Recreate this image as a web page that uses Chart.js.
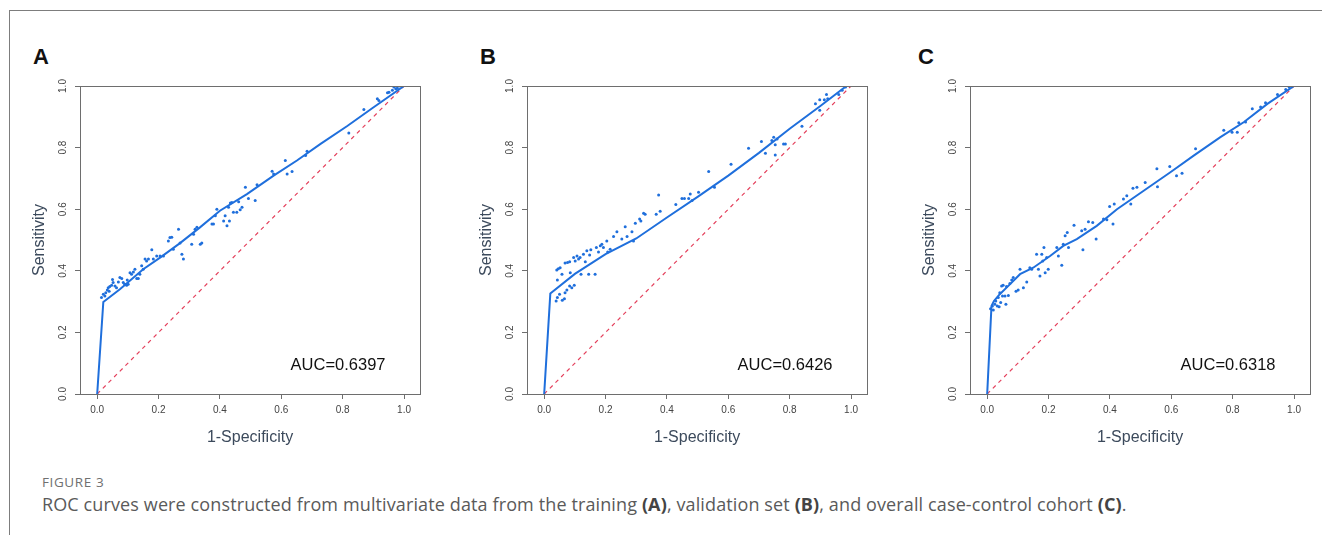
<!DOCTYPE html>
<html>
<head>
<meta charset="utf-8">
<script src="https://cdn.jsdelivr.net/npm/chart.js@4"></script>
<style>
  html, body { margin: 0; padding: 0; background: #fff; width: 1322px; height: 535px; overflow: hidden; }
  body { position: relative; font-family: Arial, "Liberation Sans", sans-serif; }
  .frame { position: absolute; left: 9px; top: 10px; right: 0; bottom: 0;
           border-top: 1px solid #7d7d7d; border-left: 1px solid #7d7d7d; }
  .panel { position: absolute; top: 70px; }
  .letter { position: absolute; top: 46px; font: bold 22px Arial, "Liberation Sans", sans-serif; line-height: 22px; color: #111; }
  .fig { position: absolute; left: 42px; top: 473px; font: 13.5px "Open Sans", sans-serif; line-height: 18px;
         color: #707070; letter-spacing: 0.6px; }
  .caption { position: absolute; left: 42px; top: 494px; font: 18px "Open Sans", sans-serif; line-height: 20px;
             color: #5a5a5a; white-space: nowrap; letter-spacing: 0.12px; }
  .caption b { color: #444; font-weight: 700; }
</style>
</head>
<body>
<div class="frame"></div>

<div class="letter" style="left:33px">A</div>
<div class="letter" style="left:480px">B</div>
<div class="letter" style="left:918px">C</div>

<canvas id="rocA" class="panel" style="left:20px" width="412" height="390"></canvas>
<canvas id="rocB" class="panel" style="left:467px" width="412" height="390"></canvas>
<canvas id="rocC" class="panel" style="left:910px" width="412" height="390"></canvas>

<div class="fig">FIGURE 3</div>
<div class="caption">ROC curves were constructed from multivariate data from the training <b>(A)</b>, validation set <b>(B)</b>, and overall case-control cohort <b>(C)</b>.</div>

<script>
// axis ticks (both axes)
const xTicks = [0, 0.2, 0.4, 0.6, 0.8, 1.0];
const yTicks = [0, 0.2, 0.4, 0.6, 0.8, 1.0];
const aucLabels = ['AUC=0.6397', 'AUC=0.6426', 'AUC=0.6318'];

// diagonal reference line
const chanceLine = [[0, 0], [1, 1]];

// smoothed ROC curves [1-specificity, sensitivity]
const curveA = [[0, 0], [0.020, 0.299], [0.074, 0.340], [0.150, 0.405], [0.205, 0.443], [0.270, 0.490],
    [0.335, 0.541], [0.400, 0.595], [0.488, 0.649], [0.575, 0.709], [0.651, 0.758], [0.728, 0.812],
    [0.815, 0.870], [0.902, 0.932], [1, 1]];
const curveB = [[0, 0], [0.020, 0.326], [0.100, 0.390], [0.200, 0.454], [0.300, 0.505], [0.400, 0.573],
    [0.500, 0.640], [0.600, 0.709], [0.700, 0.783], [0.800, 0.861], [0.900, 0.935], [0.985, 1.0], [1, 1]];
const curveC = [[0, 0], [0.014, 0.286], [0.022, 0.302], [0.041, 0.324], [0.074, 0.356], [0.107, 0.389],
    [0.150, 0.410], [0.205, 0.448], [0.248, 0.481], [0.292, 0.503], [0.357, 0.546], [0.423, 0.600],
    [0.510, 0.660], [0.597, 0.720], [0.673, 0.774], [0.760, 0.834], [0.837, 0.883], [0.913, 0.942], [1, 1]];

// empirical ROC points
const dotsA = [[0.014, 0.313], [0.020, 0.324], [0.025, 0.318], [0.028, 0.329], [0.033, 0.338], [0.036, 0.345],
    [0.041, 0.349], [0.039, 0.334], [0.047, 0.353], [0.052, 0.362], [0.058, 0.351], [0.050, 0.372],
    [0.063, 0.345], [0.069, 0.364], [0.074, 0.378], [0.080, 0.375], [0.085, 0.362], [0.090, 0.356],
    [0.096, 0.353], [0.101, 0.356], [0.098, 0.370], [0.107, 0.394], [0.112, 0.389], [0.118, 0.396],
    [0.123, 0.405], [0.129, 0.375], [0.134, 0.375], [0.139, 0.389], [0.145, 0.416], [0.150, 0.405],
    [0.156, 0.438], [0.161, 0.432], [0.167, 0.438], [0.178, 0.468], [0.183, 0.438], [0.194, 0.448],
    [0.205, 0.448], [0.216, 0.448], [0.232, 0.497], [0.237, 0.508], [0.243, 0.509], [0.248, 0.470],
    [0.265, 0.535], [0.270, 0.490], [0.276, 0.454], [0.281, 0.438], [0.308, 0.486], [0.314, 0.519],
    [0.319, 0.535], [0.325, 0.541], [0.336, 0.486], [0.341, 0.490], [0.374, 0.552], [0.379, 0.552],
    [0.385, 0.579], [0.390, 0.600], [0.412, 0.562], [0.417, 0.579], [0.423, 0.546], [0.428, 0.606],
    [0.431, 0.562], [0.434, 0.620], [0.439, 0.622], [0.444, 0.590], [0.455, 0.590], [0.461, 0.624],
    [0.466, 0.598], [0.472, 0.606], [0.483, 0.671], [0.493, 0.635], [0.515, 0.628], [0.521, 0.679],
    [0.570, 0.723], [0.575, 0.714], [0.613, 0.758], [0.619, 0.714], [0.635, 0.722], [0.679, 0.774],
    [0.684, 0.788], [0.820, 0.847], [0.869, 0.924], [0.913, 0.959], [0.918, 0.953], [0.946, 0.978],
    [0.951, 0.980], [0.962, 0.986], [0.967, 0.997], [0.973, 0.991], [0.978, 0.993], [0.984, 1.0]];
const dotsB = [[0.039, 0.302], [0.043, 0.313], [0.050, 0.324], [0.059, 0.304], [0.066, 0.309], [0.074, 0.338],
    [0.083, 0.351], [0.090, 0.345], [0.098, 0.353], [0.068, 0.329], [0.041, 0.403], [0.046, 0.407],
    [0.052, 0.410], [0.043, 0.370], [0.058, 0.389], [0.068, 0.425], [0.076, 0.427], [0.083, 0.429],
    [0.085, 0.394], [0.096, 0.443], [0.101, 0.432], [0.107, 0.448], [0.112, 0.438], [0.117, 0.443],
    [0.120, 0.389], [0.128, 0.454], [0.134, 0.429], [0.139, 0.465], [0.145, 0.389], [0.148, 0.451],
    [0.152, 0.468], [0.166, 0.389], [0.170, 0.476], [0.177, 0.461], [0.183, 0.481], [0.188, 0.486],
    [0.193, 0.476], [0.204, 0.497], [0.207, 0.461], [0.215, 0.470], [0.226, 0.511], [0.237, 0.527],
    [0.253, 0.503], [0.264, 0.543], [0.270, 0.511], [0.286, 0.527], [0.291, 0.497], [0.297, 0.554],
    [0.311, 0.568], [0.315, 0.562], [0.324, 0.587], [0.329, 0.584], [0.365, 0.584], [0.373, 0.646],
    [0.378, 0.593], [0.429, 0.615], [0.449, 0.635], [0.457, 0.635], [0.471, 0.635], [0.476, 0.649],
    [0.482, 0.628], [0.503, 0.655], [0.536, 0.722], [0.555, 0.671], [0.609, 0.746], [0.666, 0.798],
    [0.708, 0.820], [0.721, 0.782], [0.742, 0.823], [0.748, 0.834], [0.753, 0.809], [0.753, 0.776],
    [0.759, 0.828], [0.780, 0.812], [0.786, 0.812], [0.840, 0.869], [0.884, 0.942], [0.898, 0.955],
    [0.898, 0.921], [0.913, 0.955], [0.920, 0.972], [0.924, 0.959], [0.960, 0.972], [0.971, 0.986],
    [0.982, 0.997]];
const dotsC = [[0.011, 0.277], [0.017, 0.286], [0.020, 0.273], [0.025, 0.291], [0.028, 0.302], [0.033, 0.286],
    [0.036, 0.313], [0.039, 0.283], [0.041, 0.329], [0.044, 0.297], [0.047, 0.351], [0.050, 0.318],
    [0.052, 0.353], [0.058, 0.318], [0.061, 0.291], [0.063, 0.349], [0.069, 0.320], [0.074, 0.359],
    [0.080, 0.370], [0.085, 0.378], [0.094, 0.334], [0.101, 0.338], [0.107, 0.405], [0.118, 0.345],
    [0.129, 0.364], [0.139, 0.410], [0.145, 0.405], [0.161, 0.454], [0.167, 0.405], [0.172, 0.383],
    [0.178, 0.454], [0.181, 0.432], [0.185, 0.476], [0.189, 0.394], [0.194, 0.443], [0.199, 0.405],
    [0.227, 0.476], [0.232, 0.448], [0.243, 0.418], [0.248, 0.486], [0.254, 0.514], [0.261, 0.524],
    [0.265, 0.476], [0.283, 0.548], [0.308, 0.530], [0.312, 0.468], [0.319, 0.535], [0.330, 0.559],
    [0.344, 0.557], [0.355, 0.503], [0.379, 0.568], [0.390, 0.566], [0.399, 0.609], [0.410, 0.552],
    [0.414, 0.617], [0.444, 0.633], [0.455, 0.644], [0.468, 0.617], [0.475, 0.668], [0.488, 0.671],
    [0.515, 0.687], [0.553, 0.731], [0.555, 0.673], [0.595, 0.739], [0.617, 0.709], [0.635, 0.717],
    [0.679, 0.796], [0.771, 0.856], [0.798, 0.850], [0.815, 0.850], [0.820, 0.881], [0.842, 0.883],
    [0.864, 0.926], [0.891, 0.932], [0.907, 0.946], [0.946, 0.972], [0.973, 0.989], [0.984, 0.997]];

const BLUE = '#1f6fdc';
const RED = '#e4405c';
const AXIS = '#6e6e6e';
const FONT = 'Arial, "Liberation Sans", sans-serif';

const toXY = pts => pts.map(p => ({ x: p[0], y: p[1] }));

// box around the plot + AUC text
const rocExtras = {
    id: 'rocExtras',
    afterDraw(chart, args, opts) {
        const { ctx, chartArea: a, scales: { x, y } } = chart;
        ctx.save();
        ctx.strokeStyle = AXIS;
        ctx.lineWidth = 1;
        ctx.strokeRect(Math.round(a.left) + 0.5, Math.round(a.top) + 0.5,
            Math.round(a.right - a.left), Math.round(a.bottom - a.top));
        ctx.font = '16.5px ' + FONT;
        ctx.fillStyle = '#111';
        ctx.textAlign = 'center';
        ctx.textBaseline = 'middle';
        ctx.fillText(opts.label, x.getPixelForValue(0.785), y.getPixelForValue(0.094));
        ctx.restore();
    }
};

function makeRoc(id, curve, dots, label) {
    const ctx = document.getElementById(id).getContext('2d');
    return new Chart(ctx, {
        type: 'scatter',
        data: {
            datasets: [
                { data: toXY(curve), showLine: true, borderColor: BLUE, borderWidth: 2,
                  pointRadius: 0, tension: 0 },
                { data: toXY(dots), backgroundColor: BLUE, borderWidth: 0, pointRadius: 1.5 },
                { data: toXY(chanceLine), showLine: true, borderColor: RED, borderWidth: 1.2,
                  borderDash: [4, 4], pointRadius: 0 }
            ]
        },
        options: {
            responsive: false,
            animation: false,
            devicePixelRatio: 1,
            layout: { padding: { top: 16, right: 12, left: 0, bottom: 0 } },
            plugins: {
                legend: { display: false },
                tooltip: { enabled: false },
                rocExtras: { label: label }
            },
            scales: {
                x: {
                    type: 'linear', min: -0.056, max: 1.052,
                    afterBuildTicks: s => { s.ticks = xTicks.map(v => ({ value: v })); },
                    afterFit: s => { s.height = 66; },
                    border: { display: false },
                    grid: { display: true, drawOnChartArea: false, drawTicks: true, tickLength: 5, tickColor: AXIS },
                    ticks: { padding: 5, color: '#444', font: { size: 10, family: FONT },
                             callback: v => v.toFixed(1), maxRotation: 0, autoSkip: false },
                    title: { display: true, text: '1-Specificity', color: '#3c4a5c',
                             font: { size: 16, family: FONT }, padding: { top: 0, bottom: 13 } }
                },
                y: {
                    type: 'linear', min: 0, max: 1,
                    afterBuildTicks: s => { s.ticks = yTicks.map(v => ({ value: v })); },
                    afterFit: s => { s.width = 60; },
                    border: { display: false },
                    grid: { display: true, drawOnChartArea: false, drawTicks: true, tickLength: 5, tickColor: AXIS },
                    ticks: { padding: 5, color: '#444', font: { size: 10, family: FONT },
                             callback: v => v.toFixed(1), minRotation: 90, maxRotation: 90,
                             crossAlign: 'center', autoSkip: false },
                    title: { display: true, text: 'Sensitivity', color: '#3c4a5c',
                             font: { size: 16, family: FONT }, padding: { top: 10, bottom: 0 } }
                }
            }
        },
        plugins: [rocExtras]
    });
}

makeRoc('rocA', curveA, dotsA, aucLabels[0]);
makeRoc('rocB', curveB, dotsB, aucLabels[1]);
makeRoc('rocC', curveC, dotsC, aucLabels[2]);
</script>
</body>
</html>
